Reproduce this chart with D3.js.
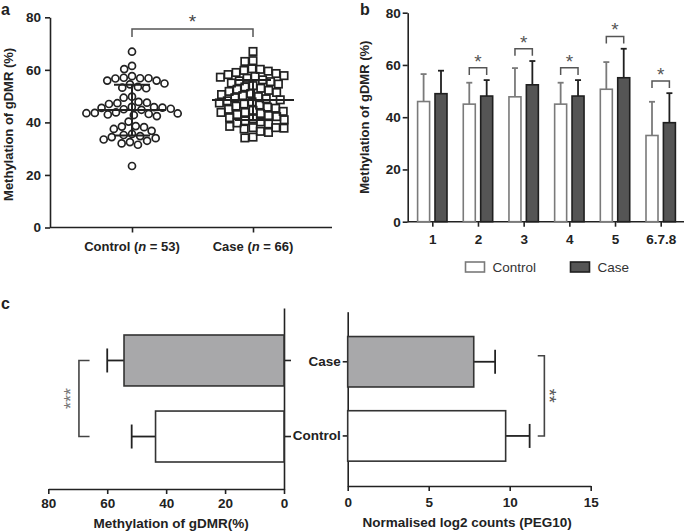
<!DOCTYPE html>
<html><head><meta charset="utf-8">
<script src="https://cdn.jsdelivr.net/npm/d3@7"></script>
<style>
body{margin:0;background:#fff;}
svg{font-family:"Liberation Sans",Arial,sans-serif;}
</style></head>
<body><svg id="c" width="685" height="532"></svg>
<script>
// ---------- DATA ----------
// Panel a
const aCategories = ["Control", "Case"];
const aN = [53, 66];
const controlValues = [66.9, 61.5, 60.3, 57.6,
  56.8, 56.7, 55.9, 55.9, 56.8, 57.0,
  54.8, 54.5, 53.5, 53.0, 53.2,
  49.8, 49.4,
  47.5, 47.0, 47.8, 47.3,
  45.8, 45.6, 45.2, 44.8, 45.0, 45.5, 45.9,
  43.8, 43.5, 43.2, 43.0, 42.8, 43.4, 43.6, 42.4,
  40.3, 38.6, 38.2, 37.5, 36.8, 38.4,
  35.6, 35.2, 34.8, 34.4, 34.0, 33.5, 33.0, 32.5, 32.0, 31.5,
  23.4];
const caseValues = [67.0, 63.5, 63.2, 60.4, 60.2, 59.8, 59.5, 59.0, 58.6, 58.2,
  57.8, 57.5, 57.2, 56.8, 56.2, 55.8, 55.5, 55.0, 54.6, 54.0,
  53.5, 53.0, 52.6, 52.2, 51.8, 51.4, 51.0, 50.6, 50.2, 49.8,
  49.4, 49.0, 48.6, 48.2, 47.8, 47.4, 47.0, 46.6, 46.2, 45.8,
  45.4, 45.0, 44.6, 44.2, 43.8, 43.8, 43.4, 43.0, 42.6, 42.2,
  41.8, 41.4, 41.0, 40.6, 40.2, 39.8, 39.4, 38.5, 38.0, 38.0,
  37.8, 37.5, 36.6, 36.2, 34.4, 34.1];
const aMean = [44.7, 48.5];
const aSD = [9.65, 7.6];
const aTicks = [0, 20, 40, 60, 80];

// Panel b
const bCategories = ["1", "2", "3", "4", "5", "6.7.8"];
const bSeries = ["Control", "Case"];
const bControl = [46.0, 45.0, 47.8, 45.0, 50.7, 33.0];
const bControlSD = [10.5, 8.2, 11.0, 8.2, 10.4, 12.9];
const bCase = [49.0, 48.1, 52.4, 48.1, 55.1, 37.9];
const bCaseSD = [8.8, 6.1, 9.1, 6.1, 11.1, 11.3];
const bSignificant = [false, true, true, true, true, true];
const bTicks = [0, 20, 40, 60, 80];

// Panel c
const cGroups = ["Case", "Control"];
const cMethylation = [54.3, 43.6];
const cMethylationSD = [5.7, 8.1];
const cPeg10 = [7.78, 9.75];
const cPeg10SD = [1.32, 1.48];
const cLeftTicks = [0, 20, 40, 60, 80];
const cRightTicks = [0, 5, 10, 15];

// ---------- DRAW ----------
const svg = d3.select("#c");
const INK = "#222";

function styleAxis(g, w) {
  g.selectAll(".domain").attr("stroke", INK).attr("stroke-width", w || 1.6);
  g.selectAll(".tick line").attr("stroke", INK).attr("stroke-width", w || 1.6);
  g.selectAll(".tick text").attr("fill", INK).attr("font-weight", "bold").attr("font-size", 13.5)
    .attr("font-family", "Liberation Sans, Arial, sans-serif");
}

function beeswarm(values, y, d) {
  const pts = values.map(v => ({ v, y: y(v), x: 0 }));
  const order = pts.slice().sort((a, b) => b.v - a.v);
  const placed = [];
  for (const p of order) {
    const cands = [0];
    for (const q of placed) {
      const dy = Math.abs(q.y - p.y);
      if (dy < d) {
        const dx = Math.sqrt(d * d - dy * dy);
        cands.push(q.x + dx, q.x - dx);
      }
    }
    cands.sort((a, b) => Math.abs(a) - Math.abs(b) || a - b);
    for (const c of cands) {
      let ok = true;
      for (const q of placed) {
        const dx = q.x - c, dy = q.y - p.y;
        if (dx * dx + dy * dy < d * d - 1e-6) { ok = false; break; }
      }
      if (ok) { p.x = c; break; }
    }
    placed.push(p);
  }
  return pts;
}

// ===== Panel a =====
{
  const y = d3.scaleLinear().domain([0, 80]).range([227.5, 17.3]);
  const x = d3.scalePoint().domain(aCategories).range([132, 253]);
  const g = svg.append("g");
  const ya = g.append("g").attr("transform", "translate(50,0)")
    .call(d3.axisLeft(y).tickValues(aTicks).tickSize(5).tickPadding(4).tickSizeOuter(0));
  styleAxis(ya);
  const xa = g.append("g").attr("transform", `translate(0,${y(0)})`)
    .call(d3.axisBottom(x).tickSize(5).tickFormat("").tickSizeOuter(0));
  xa.select(".domain").attr("d", `M50,0H332`);
  styleAxis(xa);
  aCategories.forEach((c, i) => {
    const t = g.append("text").attr("x", x(c)).attr("y", 251).attr("text-anchor", "middle")
      .attr("font-size", 13).attr("font-weight", "bold").attr("fill", INK);
    t.append("tspan").text(c + " (");
    t.append("tspan").attr("font-style", "italic").text("n");
    t.append("tspan").text(" = " + aN[i] + ")");
  });
  g.append("text").attr("transform", `translate(13,${(y(0) + y(80)) / 2 + 2}) rotate(-90)`)
    .attr("text-anchor", "middle").attr("font-size", 13).attr("font-weight", "bold").attr("fill", INK)
    .text("Methylation of gDMR (%)");

  const cp = beeswarm(controlValues, y, 8.4);
  g.append("g").selectAll("circle").data(cp).join("circle")
    .attr("cx", d => x("Control") + d.x).attr("cy", d => d.y).attr("r", 3.5)
    .attr("fill", "none").attr("stroke", INK).attr("stroke-width", 1.7);
  const sp = beeswarm(caseValues, y, 8.2);
  g.append("g").selectAll("rect").data(sp).join("rect")
    .attr("x", d => x("Case") + d.x - 3.7).attr("y", d => d.y - 3.7).attr("width", 7.4).attr("height", 7.4)
    .attr("fill", "none").attr("stroke", INK).attr("stroke-width", 1.7);

  const halfMean = [34, 41], halfSD = [18, 18];
  aCategories.forEach((c, i) => {
    const cx = x(c);
    g.append("line").attr("x1", cx - halfMean[i]).attr("x2", cx + halfMean[i])
      .attr("y1", y(aMean[i])).attr("y2", y(aMean[i])).attr("stroke", INK).attr("stroke-width", 2);
    g.append("line").attr("x1", cx).attr("x2", cx)
      .attr("y1", y(aMean[i] - aSD[i])).attr("y2", y(aMean[i] + aSD[i])).attr("stroke", INK).attr("stroke-width", 2);
    [aMean[i] - aSD[i], aMean[i] + aSD[i]].forEach(v => {
      g.append("line").attr("x1", cx - halfSD[i]).attr("x2", cx + halfSD[i])
        .attr("y1", y(v)).attr("y2", y(v)).attr("stroke", INK).attr("stroke-width", 2);
    });
  });
  const by = y(75.5);
  g.append("path").attr("d", `M${x("Control")},${by + 8}V${by}H${x("Case")}V${by + 8}`)
    .attr("fill", "none").attr("stroke", "#555").attr("stroke-width", 1.5);
  g.append("text").attr("x", (x("Control") + x("Case")) / 2).attr("y", by - 1).attr("text-anchor", "middle")
    .attr("font-size", 19).attr("fill", "#444").text("*");
  svg.append("text").attr("x", 1).attr("y", 15).attr("font-size", 16).attr("font-weight", "bold").attr("fill", INK).text("a");
}

// ===== Panel b =====
{
  const y = d3.scaleLinear().domain([0, 80]).range([221.7, 12.7]);
  const x = d3.scalePoint().domain(bCategories).range([432.3, 660.7]);
  const xs = d3.scaleBand().domain(bSeries).range([-14.7, 14.7]).paddingInner(0.31);
  const g = svg.append("g");
  const ya = g.append("g").attr("transform", "translate(407.7,0)")
    .call(d3.axisLeft(y).tickValues(bTicks).tickSize(5).tickPadding(2).tickSizeOuter(0));
  styleAxis(ya);
  const xa = g.append("g").attr("transform", `translate(0,${y(0)})`)
    .call(d3.axisBottom(x).tickSize(5).tickPadding(8).tickSizeOuter(0));
  xa.select(".domain").attr("d", `M407.7,0H684`);
  styleAxis(xa);
  g.append("text").attr("transform", `translate(369,${(y(0) + y(80)) / 2}) rotate(-90)`)
    .attr("text-anchor", "middle").attr("font-size", 13).attr("font-weight", "bold").attr("fill", INK)
    .text("Methylation of gDMR (%)");

  const rows = bCategories.map((c, i) => ({ c, i,
    vals: [{ s: "Control", v: bControl[i], sd: bControlSD[i] }, { s: "Case", v: bCase[i], sd: bCaseSD[i] }] }));
  const style = { Control: { fill: "#fff", stroke: "#7a7a7a" }, Case: { fill: "#555", stroke: "#1f1f1f" } };
  rows.forEach(r => {
    r.vals.forEach(d => {
      const bx = x(r.c) + xs(d.s);
      const cx = bx + xs.bandwidth() / 2;
      g.append("line").attr("x1", cx).attr("x2", cx).attr("y1", y(d.v)).attr("y2", y(d.v + d.sd))
        .attr("stroke", style[d.s].stroke).attr("stroke-width", 1.8);
      g.append("line").attr("x1", cx - 3).attr("x2", cx + 3).attr("y1", y(d.v + d.sd)).attr("y2", y(d.v + d.sd))
        .attr("stroke", style[d.s].stroke).attr("stroke-width", 1.8);
      g.append("rect").attr("x", bx).attr("y", y(d.v)).attr("width", xs.bandwidth()).attr("height", y(0) - y(d.v))
        .attr("fill", style[d.s].fill).attr("stroke", style[d.s].stroke).attr("stroke-width", 1.6);
    });
    if (bSignificant[r.i]) {
      const top = Math.max(bControl[r.i] + bControlSD[r.i], bCase[r.i] + bCaseSD[r.i]) + 4.7;
      const x1 = x(r.c) + xs("Control") + xs.bandwidth() / 2, x2 = x(r.c) + xs("Case") + xs.bandwidth() / 2;
      g.append("path").attr("d", `M${x1},${y(top - 2.7)}V${y(top)}H${x2}V${y(top - 2.7)}`)
        .attr("fill", "none").attr("stroke", "#555").attr("stroke-width", 1.5);
      g.append("text").attr("x", (x1 + x2) / 2).attr("y", y(top)).attr("text-anchor", "middle")
        .attr("font-size", 19).attr("fill", "#555").text("*");
    }
  });
  const lg = g.append("g");
  bSeries.forEach((s, i) => {
    const lx = [465.5, 570.5][i];
    lg.append("rect").attr("x", lx).attr("y", 262).attr("width", 19).attr("height", 10)
      .attr("fill", style[s].fill).attr("stroke", style[s].stroke).attr("stroke-width", 1.6);
    lg.append("text").attr("x", lx + 27).attr("y", 272).attr("font-size", 13.5).attr("fill", "#333").text(s);
  });
  svg.append("text").attr("x", 360).attr("y", 15).attr("font-size", 16).attr("font-weight", "bold").attr("fill", INK).text("b");
}

// ===== Panel c left =====
{
  const x = d3.scaleLinear().domain([0, 80]).range([284, 48.3]);
  const y = d3.scaleBand().domain(cGroups).range([308, 489]).paddingInner(0.33).paddingOuter(0.355);
  const g = svg.append("g");
  const xa = g.append("g").attr("transform", "translate(0,489)")
    .call(d3.axisBottom(x).tickValues(cLeftTicks).tickSize(5).tickPadding(4).tickSizeOuter(0));
  styleAxis(xa);
  const ya = g.append("g").attr("transform", "translate(284,0)")
    .call(d3.axisRight(y).tickSize(7).tickFormat("").tickSizeOuter(0));
  styleAxis(ya);
  const fills = { Case: "#a8a8aa", Control: "#fff" };
  cGroups.forEach((c, i) => {
    const cy = y(c) + y.bandwidth() / 2;
    const e = x(cMethylation[i] + cMethylationSD[i]);
    g.append("line").attr("x1", x(cMethylation[i])).attr("x2", e).attr("y1", cy).attr("y2", cy)
      .attr("stroke", INK).attr("stroke-width", 1.8);
    g.append("line").attr("x1", e).attr("x2", e).attr("y1", cy - 12).attr("y2", cy + 12)
      .attr("stroke", INK).attr("stroke-width", 1.8);
    g.append("rect").attr("x", x(cMethylation[i])).attr("y", y(c)).attr("width", x(0) - x(cMethylation[i]))
      .attr("height", y.bandwidth()).attr("fill", fills[c]).attr("stroke", "#333").attr("stroke-width", 1.6);
  });
  const c1 = y("Case") + y.bandwidth() / 2, c2 = y("Control") + y.bandwidth() / 2;
  g.append("path").attr("d", `M${x(66)},${c1}H${x(69.6)}V${c2}H${x(66)}`)
    .attr("fill", "none").attr("stroke", "#444").attr("stroke-width", 1.6);
  g.append("text").attr("transform", `translate(${x(74.5)},${(c1 + c2) / 2}) rotate(-90)`)
    .attr("text-anchor", "middle").attr("font-size", 18).attr("fill", "#777").attr("dy", "0.7em").text("***");
  g.append("text").attr("x", (x(0) + x(80)) / 2 + 5).attr("y", 528).attr("text-anchor", "middle")
    .attr("font-size", 13.5).attr("font-weight", "bold").attr("fill", INK).text("Methylation of gDMR(%)");
  svg.append("text").attr("x", 1).attr("y", 309).attr("font-size", 16).attr("font-weight", "bold").attr("fill", INK).text("c");
}

// ===== Panel c right =====
{
  const x = d3.scaleLinear().domain([0, 15]).range([347.7, 590.7]);
  const y = d3.scaleBand().domain(cGroups).range([311.7, 486]).paddingInner(0.32).paddingOuter(0.335);
  const g = svg.append("g");
  const xa = g.append("g").attr("transform", "translate(0,486)")
    .call(d3.axisBottom(x).tickValues(cRightTicks).tickSize(5).tickPadding(6).tickSizeOuter(0));
  styleAxis(xa);
  const ya = g.append("g").attr("transform", "translate(347.7,0)")
    .call(d3.axisLeft(y).tickSize(5).tickPadding(2).tickSizeOuter(0));
  styleAxis(ya);
  const fills = { Case: "#a8a8aa", Control: "#fff" };
  cGroups.forEach((c, i) => {
    const cy = y(c) + y.bandwidth() / 2;
    const e = x(cPeg10[i] + cPeg10SD[i]);
    g.append("line").attr("x1", x(cPeg10[i])).attr("x2", e).attr("y1", cy).attr("y2", cy)
      .attr("stroke", INK).attr("stroke-width", 1.8);
    g.append("line").attr("x1", e).attr("x2", e).attr("y1", cy - 12).attr("y2", cy + 12)
      .attr("stroke", INK).attr("stroke-width", 1.8);
    g.append("rect").attr("x", x(0)).attr("y", y(c)).attr("width", x(cPeg10[i]) - x(0))
      .attr("height", y.bandwidth()).attr("fill", fills[c]).attr("stroke", "#333").attr("stroke-width", 1.6);
  });
  const c1 = y("Case") + y.bandwidth() / 2 - 6, c2 = y("Control") + y.bandwidth() / 2;
  g.append("path").attr("d", `M${x(11.73)},${c1}H${x(12.14)}V${c2}H${x(11.73)}`)
    .attr("fill", "none").attr("stroke", "#444").attr("stroke-width", 1.6);
  g.append("text").attr("transform", `translate(${x(12.85)},${(c1 + c2) / 2}) rotate(90)`)
    .attr("text-anchor", "middle").attr("font-size", 18).attr("fill", "#555").attr("dy", "0.7em").text("**");
  g.append("text").attr("x", (x(0) + x(15)) / 2 - 2).attr("y", 527).attr("text-anchor", "middle")
    .attr("font-size", 13.5).attr("font-weight", "bold").attr("fill", INK).text("Normalised log2 counts (PEG10)");
}
</script></body></html>
